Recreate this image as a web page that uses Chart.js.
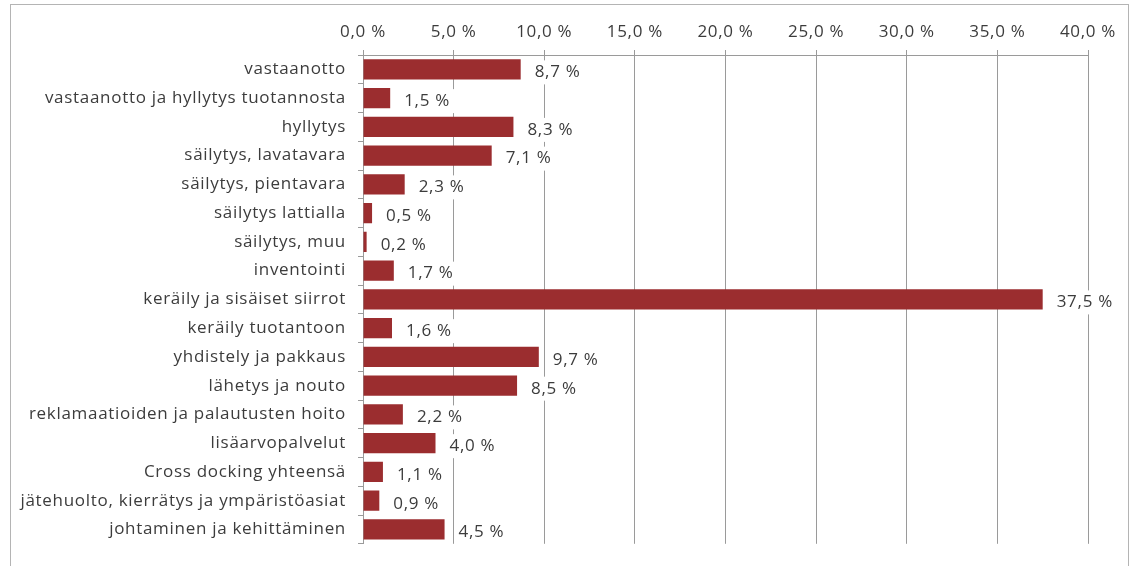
<!DOCTYPE html>
<html>
<head>
<meta charset="utf-8">
<script src="https://cdn.jsdelivr.net/npm/chart.js@4"></script>
<style>
    html, body { margin: 0; padding: 0; background: #fff; }
    #wrap { position: relative; width: 1140px; height: 566px; }
    #frame { position: absolute; left: 10px; top: 4px; width: 1119px; height: 600px; border: 1px solid #b4b4b4; box-sizing: border-box; }
    canvas { position: absolute; left: 0; top: 0; }
</style>
</head>
<body>
<div id="wrap">
    <div id="frame"></div>
    <canvas id="chart" width="1140" height="566"></canvas>
</div>
<script>
// Chart data
const categories = [
    'vastaanotto',
    'vastaanotto ja hyllytys tuotannosta',
    'hyllytys',
    'säilytys, lavatavara',
    'säilytys, pientavara',
    'säilytys lattialla',
    'säilytys, muu',
    'inventointi',
    'keräily ja sisäiset siirrot',
    'keräily tuotantoon',
    'yhdistely ja pakkaus',
    'lähetys ja nouto',
    'reklamaatioiden ja palautusten hoito',
    'lisäarvopalvelut',
    'Cross docking yhteensä',
    'jätehuolto, kierrätys ja ympäristöasiat',
    'johtaminen ja kehittäminen'
];
const shares = [8.7, 1.5, 8.3, 7.1, 2.3, 0.5, 0.2, 1.7, 37.5, 1.6, 9.7, 8.5, 2.2, 4.0, 1.1, 0.9, 4.5];
const axisMin = 0;
const axisMax = 40;
const axisStep = 5;

const textColor = '#3c3c3c';
const gridColor = '#9a9a9a';
const barColor = '#9b2d2f';
const fontFamily = '"Open Sans", sans-serif';
const fontSize = 17;

function formatPercent(v) {
    return v.toFixed(1).replace('.', ',') + ' %';
}

// the scanned chart has loosely spaced text
const spacing = {
    id: 'spacing',
    beforeDraw(chart) {
        chart.ctx.letterSpacing = '0.7px';
    }
};

// value labels with white box, drawn over the gridlines
const valueLabels = {
    id: 'valueLabels',
    afterDatasetsDraw(chart) {
        const ctx = chart.ctx;
        const meta = chart.getDatasetMeta(0);
        ctx.save();
        ctx.font = fontSize + 'px ' + fontFamily;
        ctx.letterSpacing = '0.7px';
        ctx.textBaseline = 'middle';
        ctx.textAlign = 'left';
        meta.data.forEach((bar, i) => {
            const text = formatPercent(shares[i]);
            const x = bar.x + 14;
            const w = ctx.measureText(text).width;
            ctx.fillStyle = '#ffffff';
            ctx.fillRect(x - 4, bar.y - 9, w + 8, 24);
            ctx.fillStyle = textColor;
            ctx.fillText(text, x, bar.y + 3);
        });
        ctx.restore();
    }
};

function initializeChart() {
    const ctx = document.getElementById('chart').getContext('2d');
    new Chart(ctx, {
        type: 'bar',
        data: {
            labels: categories,
            datasets: [{
                data: shares,
                backgroundColor: barColor,
                barPercentage: 0.7,
                categoryPercentage: 1.0
            }]
        },
        options: {
            indexAxis: 'y',
            responsive: false,
            animation: false,
            layout: { padding: { left: 0, right: 52, top: 0, bottom: 22 } },
            plugins: {
                legend: { display: false },
                tooltip: { enabled: false }
            },
            scales: {
                x: {
                    position: 'top',
                    min: axisMin,
                    max: axisMax,
                    afterFit: scale => { scale.height = 55; },
                    ticks: {
                        stepSize: axisStep,
                        padding: 8,
                        color: textColor,
                        font: { family: fontFamily, size: fontSize },
                        callback: v => formatPercent(v)
                    },
                    grid: { color: gridColor, lineWidth: 1, tickLength: 5 },
                    border: { color: gridColor }
                },
                y: {
                    afterFit: scale => { scale.width = 363; },
                    ticks: {
                        padding: 12,
                        color: textColor,
                        font: { family: fontFamily, size: fontSize }
                    },
                    grid: { drawOnChartArea: false, color: gridColor, tickLength: 5 },
                    border: { color: gridColor }
                }
            }
        },
        plugins: [spacing, valueLabels]
    });
}

document.addEventListener('DOMContentLoaded', () => {
    initializeChart();
});
</script>
</body>
</html>
